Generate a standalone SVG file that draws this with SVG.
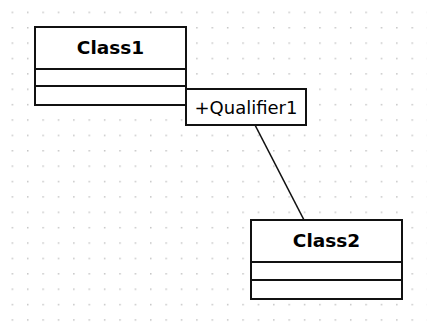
<svg xmlns="http://www.w3.org/2000/svg" width="427" height="323" viewBox="0 0 427 323">
  <defs>
    <pattern id="grid" x="11.6" y="11.6" width="15.38" height="15.38" patternUnits="userSpaceOnUse">
      <rect x="0" y="0" width="1.5" height="1.5" fill="#c4c4c4"/>
    </pattern>
    <style>
      .box { fill: #ffffff; stroke: #111111; stroke-width: 2; }
      .sep { stroke: #111111; stroke-width: 2; }
      .title { font-family: "DejaVu Sans", Verdana, sans-serif; font-weight: bold; font-size: 18.5px; fill: #000; text-anchor: middle; }
      .qual { font-family: "DejaVu Sans", Verdana, sans-serif; font-size: 18px; fill: #000; text-anchor: middle; }
      .conn { stroke: #111111; stroke-width: 1.6; fill: none; }
    </style>
  </defs>
  <rect width="427" height="323" fill="#ffffff"/>
  <rect width="427" height="323" fill="url(#grid)"/>
  <g id="connectors">
    <line class="conn" x1="255" y1="125" x2="304" y2="220"/>
  </g>
  <g id="Class1">
    <rect class="box" x="35" y="27" width="151" height="78"/>
    <line class="sep" x1="35" y1="69" x2="186" y2="69"/>
    <line class="sep" x1="35" y1="86" x2="186" y2="86"/>
    <text class="title" x="110.5" y="54">Class1</text>
  </g>
  <g id="Qualifier1">
    <rect class="box" x="186" y="89" width="120" height="36"/>
    <text class="qual" x="246" y="114">+Qualifier1</text>
  </g>
  <g id="Class2">
    <rect class="box" x="251" y="220" width="151" height="79"/>
    <line class="sep" x1="251" y1="262" x2="402" y2="262"/>
    <line class="sep" x1="251" y1="280" x2="402" y2="280"/>
    <text class="title" x="326.5" y="247">Class2</text>
  </g>
</svg>
